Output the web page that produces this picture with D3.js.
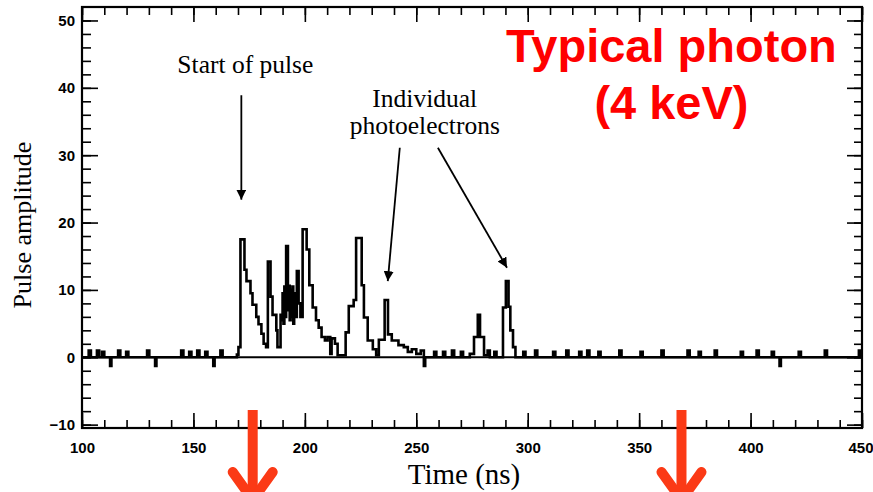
<!DOCTYPE html>
<html>
<head>
<meta charset="utf-8">
<script src="https://cdn.jsdelivr.net/npm/d3@7"></script>
<style>
  body { margin: 0; background: #fff; }
  svg { display: block; }
  .tick text { font-family: "Liberation Sans", Arial, sans-serif; font-weight: bold; font-size: 15px; fill: #000; }
  .tick line { stroke: #000; stroke-width: 1.6; }
</style>
</head>
<body>
<svg id="chart" width="873" height="492"></svg>
<script>
// axis ticks
const xMajor = [100, 150, 200, 250, 300, 350, 400, 450]
const xMinor = d3.range(100, 451, 10)
const yMajor = [-10, 0, 10, 20, 30, 40, 50]
const yMinor = d3.range(-10, 51, 2)

// trace, [time ns, amplitude], drawn as steps
const preNoise = [
  [100, 0], [103, 1], [104, 0], [106.7, 1], [107.7, 0], [109, 0.8], [110, 0],
  [112.6, -1.3], [113.2, 0], [116.2, 1], [117.2, 0], [119.8, 0.8], [120.8, 0],
  [129.2, 1], [130.2, 0], [132.8, -1.3], [133.4, 0], [144.5, 1], [145.5, 0],
  [148.1, 0.8], [149.1, 0], [151.7, 1], [152.7, 0], [155.3, 0.8], [156.3, 0],
  [158.9, -1.3], [159.5, 0], [162.1, 1], [163.1, 0]
]
const pulse = [
  [169.5, 0.4], [170.2, 1.5], [171.1, 17.5], [172.9, 13], [173.8, 11.3], [175.6, 9.5],
  [176.5, 7.8], [178.2, 6], [179.2, 4.9], [180.5, 3.5], [181.5, 2], [182.6, 1.5],
  [183.4, 14.2], [184.6, 9], [185.5, 6.3], [187.2, 4], [187.7, 1.5], [189.1, 6.3],
  [189.5, 5.5], [190, 9.5], [190.4, 5], [190.8, 10.5], [191.2, 6], [191.6, 16.5],
  [192.4, 7], [192.8, 10.6], [193.2, 5.5], [193.6, 10], [194, 6], [194.4, 10.5],
  [194.8, 5], [195.2, 9.5], [195.8, 6], [196.4, 12.8], [197.2, 8], [198, 6],
  [199, 19], [200.8, 16], [202, 10.7], [203.5, 7.4], [205, 5.5], [206.2, 4.4],
  [207.5, 3], [209, 2.5], [210.2, 3], [211.4, 0.5], [212, 2.8], [213.5, 2],
  [214.7, 0.3], [218.3, 3.7], [219.7, 7.6], [221.9, 8.5], [223, 17.7], [225.5, 10.7],
  [226.5, 5.9], [228.2, 2.5], [230.5, 1.2], [232, 0.3], [233.2, 2.6], [235.8, 8.5],
  [237.3, 3.4], [239, 2.5], [242, 1.8], [244.4, 1.5], [246.2, 0.8], [248, 1.2],
  [250, 0.5], [252, 1], [253.4, -1.3], [254, 0], [258, 0.8], [259, 0], [262, 0.8],
  [263, 0], [266, 1], [267, 0], [270, 0.8], [271, 0], [274, 0.5], [275.9, 3],
  [277.6, 6.3], [278.6, 3], [280.4, 0.3], [282, 1], [283, 0], [285, 0.8], [286, 0],
  [288.9, 7.4], [290.2, 11.3], [291.4, 7.5], [292.2, 4], [293.4, 1.5], [294.5, 0]
]
const postNoise = [
  [298, 0.8], [299, 0], [303.3, 1], [304.3, 0], [311.4, 0.8], [312.4, 0], [317.3, 1],
  [318.3, 0], [323.1, 0.8], [324.1, 0], [326.7, 1], [327.7, 0], [331.7, 0.8], [332.7, 0],
  [341.1, 1], [342.1, 0], [350.6, 0.8], [351.6, 0], [360, 1], [361, 0], [371.7, 1],
  [372.7, 0], [376.7, 0.8], [377.7, 0], [383.9, 1], [384.9, 0], [395.6, 0.8], [396.6, 0],
  [402.7, 1], [403.7, 0], [409.5, 0.8], [410.5, 0], [413, -1.3], [413.6, 0], [421.6, 0.8],
  [422.6, 0], [433.3, 1], [434.3, 0], [448.6, 1], [449.4, 0], [450, 0]
]
const zeroLine = [[100, 0], [450, 0]]

const svg = d3.select('#chart')
const plotLeft = 82, plotRight = 862, plotTop = 7, plotBottom = 428

const x = d3.scaleLinear().domain([100, 450]).range([plotLeft, plotRight])
const y = d3.scaleLinear().domain([-10.5, 52]).range([plotBottom, plotTop])

svg.append('rect').attr('width', 873).attr('height', 492).attr('fill', '#fff')

// ticks on all four sides, pointing inward
function ticks(axis, tr, vals, size, labels) {
  const g = svg.append('g').attr('transform', tr)
    .call(axis.tickValues(vals).tickSize(size).tickSizeOuter(0).tickPadding(labels ? 14 : 0)
      .tickFormat(labels ? d3.format('d') : ''))
  g.select('.domain').remove()
  return g
}
ticks(d3.axisBottom(x), `translate(0,${plotBottom})`, xMinor, -8, false)
const xl = ticks(d3.axisBottom(x), `translate(0,${plotBottom})`, xMajor, -15, true)
// last label sits against the page edge
xl.selectAll('.tick text').filter(d => d === 450).attr('text-anchor', 'end').attr('x', 11)
ticks(d3.axisTop(x), `translate(0,${plotTop})`, xMinor, -8, false)
ticks(d3.axisTop(x), `translate(0,${plotTop})`, xMajor, -15, false)
ticks(d3.axisLeft(y), `translate(${plotLeft},0)`, yMinor, -9, false)
const yl = ticks(d3.axisLeft(y), `translate(${plotLeft},0)`, yMajor, -16, true)
yl.selectAll('.tick text').attr('x', -7)
ticks(d3.axisRight(y), `translate(${plotRight},0)`, yMinor, -8, false)
ticks(d3.axisRight(y), `translate(${plotRight},0)`, yMajor, -15, false)

svg.append('rect')
  .attr('x', plotLeft).attr('y', plotTop)
  .attr('width', plotRight - plotLeft).attr('height', plotBottom - plotTop)
  .attr('fill', 'none').attr('stroke', '#000').attr('stroke-width', 2.2)

// trace
const line = d3.line().x(d => x(d[0])).y(d => y(d[1]))
svg.append('path')
  .attr('d', line(zeroLine))
  .attr('fill', 'none').attr('stroke', '#000').attr('stroke-width', 1.8)
svg.append('path')
  .attr('d', line.curve(d3.curveStepAfter)(preNoise.concat(pulse, postNoise)))
  .attr('fill', 'none').attr('stroke', '#000').attr('stroke-width', 2.6)
  .attr('stroke-linejoin', 'miter')

// axis titles
const serif = '"Liberation Serif", "Times New Roman", serif'
svg.append('text')
  .attr('x', 464).attr('y', 484)
  .attr('text-anchor', 'middle')
  .style('font-family', serif)
  .style('font-size', '29px')
  .text('Time (ns)')
svg.append('text')
  .attr('transform', 'translate(31,225) rotate(-90)')
  .attr('text-anchor', 'middle')
  .style('font-family', serif)
  .style('font-size', '26px')
  .text('Pulse amplitude')

// black annotations
svg.append('defs').append('marker')
  .attr('id', 'head').attr('viewBox', '0 0 10 10')
  .attr('refX', 10).attr('refY', 5)
  .attr('markerWidth', 10).attr('markerHeight', 10)
  .attr('markerUnits', 'userSpaceOnUse')
  .attr('orient', 'auto')
  .append('path').attr('d', 'M0,0 L10,5 L0,10 Z').attr('fill', '#000')

const notes = [
  { text: 'Start of pulse', t: 173.3, v: 42.2 },
  { text: 'Individual', t: 253.8, v: 37.2 },
  { text: 'photoelectrons', t: 253.8, v: 33.2 }
]
svg.selectAll('.note').data(notes).join('text')
  .attr('class', 'note')
  .attr('x', d => x(d.t)).attr('y', d => y(d.v))
  .attr('text-anchor', 'middle')
  .style('font-family', serif).style('font-size', '25.5px')
  .text(d => d.text)

const pointers = [
  { from: [171.5, 38.9], to: [171.5, 23.4] },
  { from: [242.6, 31.1], to: [237.2, 11.3] },
  { from: [259.7, 31.1], to: [290.7, 13.3] }
]
svg.selectAll('.pointer').data(pointers).join('line')
  .attr('class', 'pointer')
  .attr('x1', d => x(d.from[0])).attr('y1', d => y(d.from[1]))
  .attr('x2', d => x(d.to[0])).attr('y2', d => y(d.to[1]))
  .attr('stroke', '#000').attr('stroke-width', 1.8)
  .attr('marker-end', 'url(#head)')

// red title
const title = [
  { text: 'Typical photon', v: 43.9 },
  { text: '(4 keV)', v: 35.4 }
]
svg.selectAll('.title').data(title).join('text')
  .attr('class', 'title')
  .attr('x', x(364.5)).attr('y', d => y(d.v))
  .attr('text-anchor', 'middle')
  .style('font-family', '"Liberation Sans", Arial, sans-serif')
  .style('font-weight', 'bold').style('font-size', '47px')
  .attr('fill', '#ff0000')
  .text(d => d.text)

// red arrows below the axis
const redArrows = [176.6, 369]
const ra = svg.selectAll('.red').data(redArrows).join('g')
  .attr('class', 'red')
  .attr('transform', d => `translate(${x(d)},0)`)
ra.append('line')
  .attr('x1', 0).attr('x2', 0).attr('y1', 410).attr('y2', 500)
  .attr('stroke', '#fb3a16').attr('stroke-width', 10)
ra.append('path')
  .attr('d', 'M-20,472 L0,500 L20,472')
  .attr('fill', 'none').attr('stroke', '#fb3a16').attr('stroke-width', 10)
  .attr('stroke-linecap', 'round')
</script>
</body>
</html>
